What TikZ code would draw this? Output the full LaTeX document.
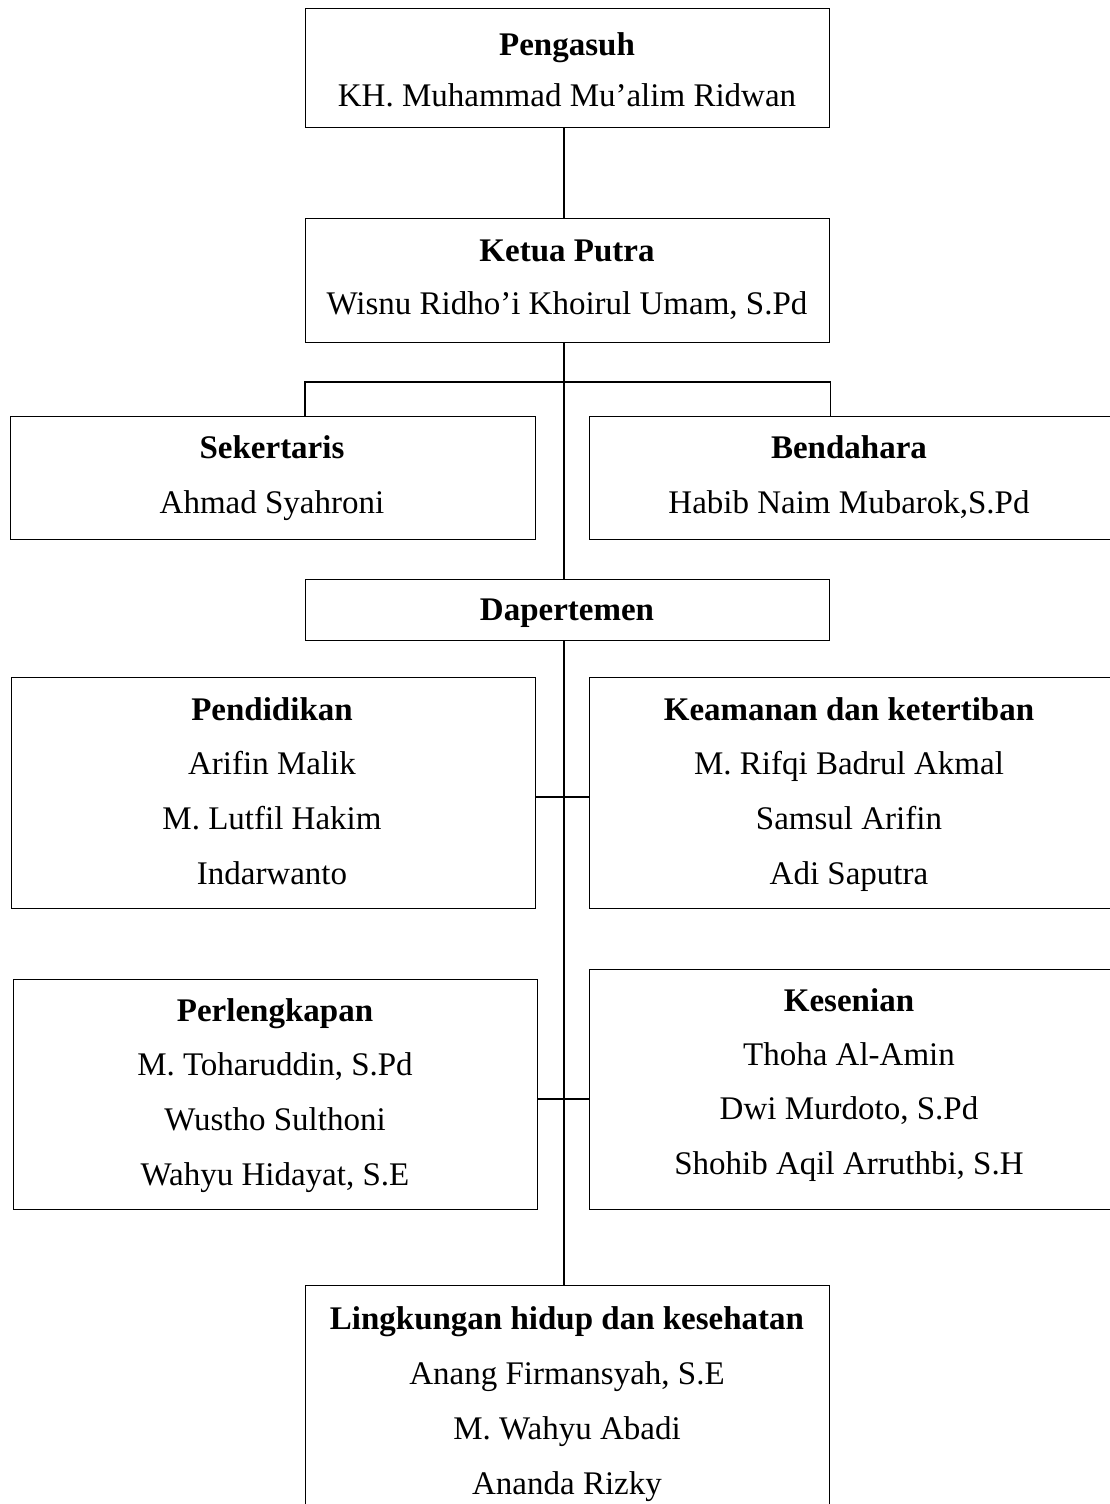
\documentclass[tikz,border=0pt]{standalone}
\usepackage{fontspec}
\setmainfont{Liberation Serif}
\begin{document}
\begin{tikzpicture}[x=1pt,y=-1pt,
  box/.style={draw, line width=1.4pt, anchor=north west, inner sep=0pt},
  txt/.style={inner sep=0pt, text height=30pt, text depth=7pt, font=\fontsize{33}{40}\selectfont},
  ttl/.style={txt, font=\fontsize{33}{40}\selectfont\bfseries},
  conn/.style={line width=1.4pt}]
\useasboundingbox (0,0) rectangle (1110,1504);
\clip (0,0) rectangle (1110,1504);
\fill[white] (0,0) rectangle (1110,1504);
% boxes
\node[box, minimum width=524pt, minimum height=119pt] (peng) at (305,8) {};
\node[box, minimum width=524pt, minimum height=124pt] (ketua) at (305,218) {};
\node[box, minimum width=525pt, minimum height=123pt] (sek) at (10,416) {};
\node[box, minimum width=540pt, minimum height=123pt] (bend) at (589,416) {};
\node[box, minimum width=524pt, minimum height=61pt] (dep) at (305,579) {};
\node[box, minimum width=524pt, minimum height=231pt] (pend) at (11,677) {};
\node[box, minimum width=540pt, minimum height=231pt] (keam) at (589,677) {};
\node[box, minimum width=524pt, minimum height=230pt] (perl) at (13,979) {};
\node[box, minimum width=540pt, minimum height=240pt] (kes) at (589,969) {};
\node[box, minimum width=524pt, minimum height=250pt] (ling) at (305,1285) {};
% texts
\node[ttl] (pengT) at (567,44) {Pengasuh};
\node[txt] (pengN) at (567,95) {KH. Muhammad Mu’alim Ridwan};
\node[ttl] (ketuaT) at (567,250) {Ketua Putra};
\node[txt] (ketuaN) at (567,303) {Wisnu Ridho’i Khoirul Umam, S.Pd};
\node[ttl] (sekT) at (272,447) {Sekertaris};
\node[txt] (sekN) at (272,502) {Ahmad Syahroni};
\node[ttl] (bendT) at (849,447) {Bendahara};
\node[txt] (bendN) at (849,502) {Habib Naim Mubarok,S.Pd};
\node[ttl] (depT) at (567,609) {Dapertemen};
\node[ttl] (pendT) at (272,709) {Pendidikan};
\node[txt] (pend1) at (272,763) {Arifin Malik};
\node[txt] (pend2) at (272,818) {M. Lutfil Hakim};
\node[txt] (pend3) at (272,873) {Indarwanto};
\node[ttl] (keamT) at (849,709) {Keamanan dan ketertiban};
\node[txt] (keam1) at (849,763) {M. Rifqi Badrul Akmal};
\node[txt] (keam2) at (849,818) {Samsul Arifin};
\node[txt] (keam3) at (849,873) {Adi Saputra};
\node[ttl] (perlT) at (275,1010) {Perlengkapan};
\node[txt] (perl1) at (275,1064) {M. Toharuddin, S.Pd};
\node[txt] (perl2) at (275,1119) {Wustho Sulthoni};
\node[txt] (perl3) at (275,1174) {Wahyu Hidayat, S.E};
\node[ttl] (kesT) at (849,1000) {Kesenian};
\node[txt] (kes1) at (849,1054) {Thoha Al-Amin};
\node[txt] (kes2) at (849,1108) {Dwi Murdoto, S.Pd};
\node[txt] (kes3) at (849,1163) {Shohib Aqil Arruthbi, S.H};
\node[ttl] (lingT) at (567,1318) {Lingkungan hidup dan kesehatan};
\node[txt] (ling1) at (567,1373) {Anang Firmansyah, S.E};
\node[txt] (ling2) at (567,1428) {M. Wahyu Abadi};
\node[txt] (ling3) at (567,1483) {Ananda Rizky};
% connectors
\coordinate (spine) at (564,0);
\coordinate (hl) at (0,382);
\coordinate (st1) at (0,797);
\coordinate (st2) at (0,1099);
\draw[conn] (peng.south -| spine) -- (ketua.north -| spine);
\draw[conn] (ketua.south -| spine) -- (dep.north -| spine);
\draw[conn] (sek.north -| ketua.west) -- (ketua.west |- hl) -- (ketua.east |- hl) -- (bend.north -| ketua.east);
\draw[conn] (dep.south -| spine) -- (ling.north -| spine);
\draw[conn] (pend.east |- st1) -- (keam.west |- st1);
\draw[conn] (perl.east |- st2) -- (kes.west |- st2);
\end{tikzpicture}
\end{document}
